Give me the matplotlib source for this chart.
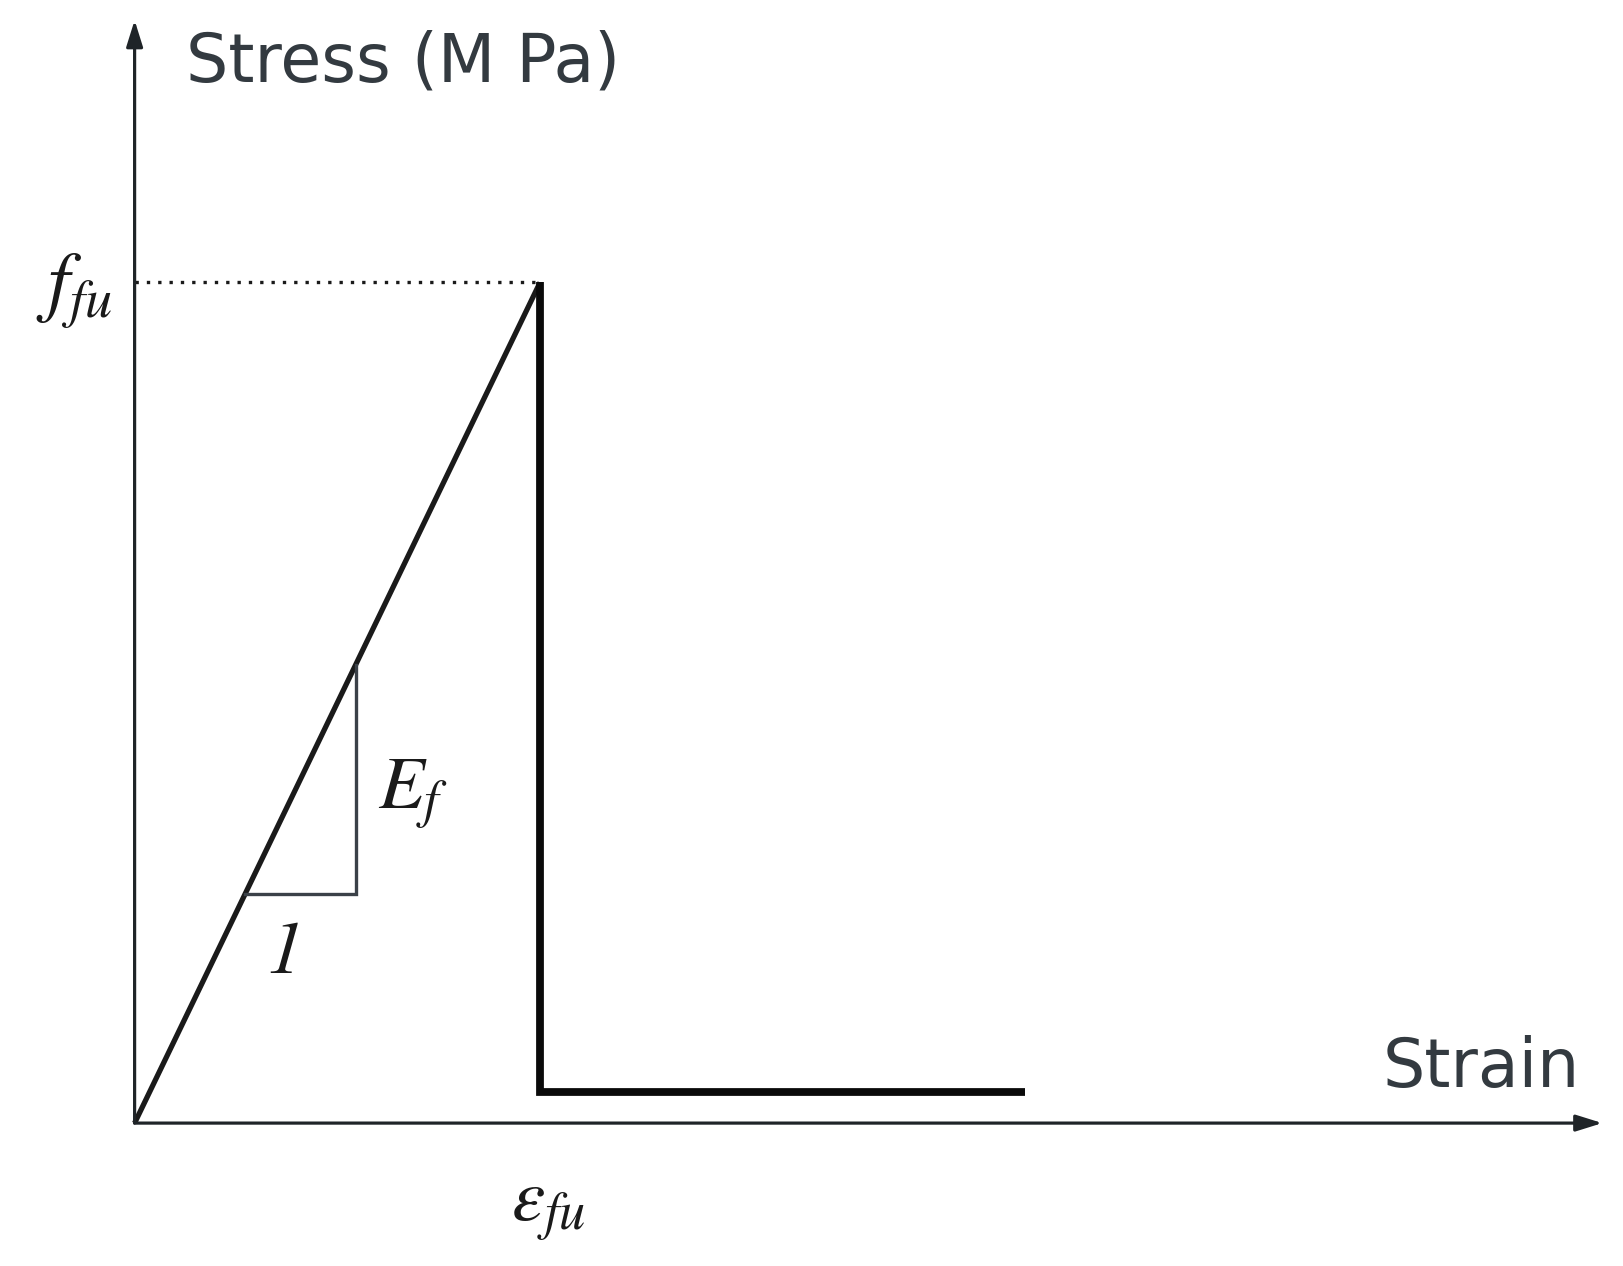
import numpy as np
import matplotlib.pyplot as plt

plt.rcParams["mathtext.fontset"] = "stix"

# idealised FRP stress-strain law (normalised: eps_fu = 1, f_fu = 1)
eps_fu = 1.0
f_fu = 1.0
residual_stress = 0.037
residual_strain_end = 2.196
strain_axis_end = 3.62
stress_axis_end = 1.312

# slope triangle on the elastic branch
tri_strain = [0.272, 0.545]

LINE = "#3b4148"
TEXT = "#333a40"

fig = plt.figure(figsize=(16.23, 12.66), dpi=100)
ax = fig.add_axes([0, 0, 1, 1])
ax.set_xlim(-0.332, 3.671)
ax.set_ylim(-0.170, 1.336)
ax.axis("off")

# axes with arrows
ax.annotate("", xy=(0, stress_axis_end), xytext=(0, 0),
            arrowprops=dict(arrowstyle="-|>,head_length=1.6,head_width=0.5",
                            color="#1f2428", lw=2.3, shrinkA=0, shrinkB=0))
ax.annotate("", xy=(strain_axis_end, 0), xytext=(0, 0),
            arrowprops=dict(arrowstyle="-|>,head_length=1.6,head_width=0.5",
                            color="#1f2428", lw=2.3, shrinkA=0, shrinkB=0))

# elastic branch
ax.plot([0, eps_fu], [0, f_fu], color="#1a1a1a", lw=3.8, solid_capstyle="butt")

# rupture + residual
ax.plot([eps_fu, eps_fu, residual_strain_end],
        [f_fu, residual_stress, residual_stress],
        color="#0a0a0a", lw=5.6, solid_joinstyle="miter", solid_capstyle="butt")

# dotted guide to f_fu
ax.plot([0, eps_fu], [f_fu, f_fu], color="#1a1a1a", lw=2.4,
        linestyle=(0, (1, 2.4)))

# slope triangle
t0, t1 = tri_strain
s0 = t0 * f_fu / eps_fu
s1 = t1 * f_fu / eps_fu
ax.plot([t0, t1, t1], [s0, s0, s1], color=LINE, lw=2.4,
        solid_joinstyle="miter")

# labels
ax.text(0.127, 1.262, "Stress (M Pa)", fontsize=48, color=TEXT,
        family="DejaVu Sans", ha="left", va="center")
ax.text(3.565, 0.066, "Strain", fontsize=48, color=TEXT,
        family="DejaVu Sans", ha="right", va="center")
ax.text(-0.055, 0.99, r"$f_{fu}$", fontsize=56, color="#1a1a1a",
        ha="right", va="center")
ax.text(0.6, 0.39, r"$E_f$", fontsize=54, color="#1a1a1a",
        ha="left", va="center")
ax.text(0.37, 0.2, "1", fontsize=54, color="#1a1a1a", family="STIXGeneral",
        style="italic", ha="center", va="center")
ax.text(1.02, -0.1, r"$\varepsilon_{fu}$", fontsize=54, color="#1a1a1a",
        ha="center", va="center")

fig.savefig("out.png", dpi=100)
